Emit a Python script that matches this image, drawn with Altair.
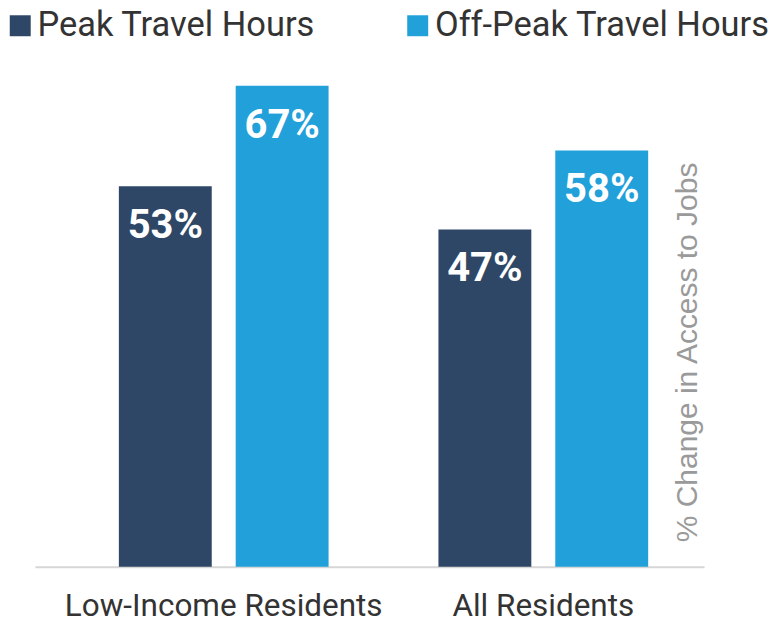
import altair as alt
import pandas as pd

categories = ["Low-Income Residents", "All Residents"]
series = ["Peak Travel Hours", "Off-Peak Travel Hours"]
peak_values = [53, 47]
offpeak_values = [67, 58]
colors = ["#2F4766", "#22A0DA"]

rows = []
for i, c in enumerate(categories):
    rows.append({"group": c, "series": series[0], "value": peak_values[i], "label": f"{peak_values[i]}%"})
    rows.append({"group": c, "series": series[1], "value": offpeak_values[i], "label": f"{offpeak_values[i]}%"})
df = pd.DataFrame(rows)

x_enc = alt.X(
    "group:N",
    sort=categories,
    scale=alt.Scale(paddingInner=0.34375, paddingOuter=0.21875, align=0.6),
    axis=alt.Axis(
        title=None, labelAngle=0, ticks=False, domainColor="#d6d6d6", domainWidth=2,
        labelFont="Roboto", labelFontSize=31.5, labelColor="#333333",
        labelPadding=24, labelBaseline="top", labelLimit=600,
    ),
)
xoff = alt.XOffset("series:N", sort=series, scale=alt.Scale(paddingInner=0.205, paddingOuter=0))
y_enc = alt.Y(
    "value:Q",
    scale=alt.Scale(domain=[0, 70], nice=False),
    axis=alt.Axis(
        orient="right", labels=False, ticks=False, domain=False, grid=False,
        title="% Change in Access to Jobs", titleAngle=270, titleFont="Liberation Sans",
        titleFontSize=30, titleFontWeight="normal", titleColor="#9a9a9a",
        titleX=-17, titleY=288, titleAlign="center", titleBaseline="middle",
    ),
)

bars = alt.Chart(df).mark_bar().encode(
    x=x_enc,
    xOffset=xoff,
    y=y_enc,
    color=alt.Color(
        "series:N",
        sort=series,
        scale=alt.Scale(domain=series, range=colors),
        legend=alt.Legend(
            title=None, orient="none", legendX=-32, legendY=-56, direction="horizontal",
            symbolType="square", symbolSize=441, symbolStrokeWidth=0, symbolOpacity=1,
            labelFont="Roboto", labelFontSize=34.5, labelColor="#333333",
            labelOffset=0, columnPadding=85, padding=0, labelLimit=600,
        ),
    ),
)

labels = alt.Chart(df).mark_text(
    font="Roboto", fontWeight="bold", fontSize=40, color="white",
    baseline="alphabetic", align="center", dy=52,
).encode(
    x=alt.X("group:N", sort=categories),
    xOffset=alt.XOffset("series:N", sort=series),
    y=alt.Y("value:Q"),
    text="label:N",
)

chart = (
    alt.layer(bars, labels)
    .properties(
        width=670, height=503,
        autosize=alt.AutoSizeParams(type="none"),
        padding={"left": 27, "top": 56, "right": 70, "bottom": 50},
    )
    .configure_view(stroke=None)
)

chart.save("out.html", embed_options={"renderer": "svg", "actions": False})
